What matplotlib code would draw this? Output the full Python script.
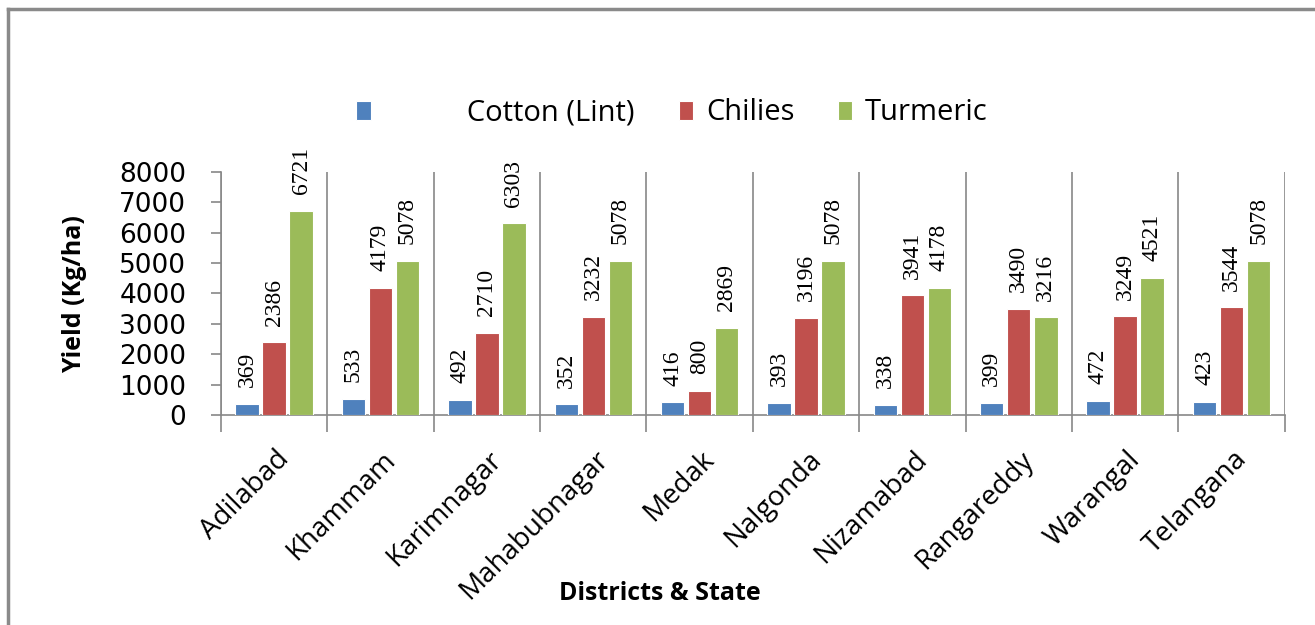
import numpy as np
import matplotlib
matplotlib.use("Agg")
import matplotlib.pyplot as plt
import matplotlib.transforms as mtransforms
from matplotlib.lines import Line2D

# ---------- yields by district (Kg/ha) ----------
districts = ["Adilabad", "Khammam", "Karimnagar", "Mahabubnagar", "Medak",
             "Nalgonda", "Nizamabad", "Rangareddy", "Warangal", "Telangana"]
cotton = [369, 533, 492, 352, 416, 393, 338, 399, 472, 423]
chilies = [2386, 4179, 2710, 3232, 800, 3196, 3941, 3490, 3249, 3544]
turmeric = [6721, 5078, 6303, 5078, 2869, 5078, 4178, 3216, 4521, 5078]

series = [
    (" " * 11 + "Cotton (Lint)", cotton, "#4F81BD"),
    ("Chilies", chilies, "#C0504D"),
    ("Turmeric", turmeric, "#9BBB59"),
]

SANS = "Open Sans"

fig = plt.figure(figsize=(13.15, 6.25), dpi=100)
ax = fig.add_axes([0.168, 0.336, 0.809, 0.389])

x = np.arange(len(districts))
step, width = 0.254, 0.22
for i, (name, vals, col) in enumerate(series):
    pos = x + (i - 1) * step
    bars = ax.bar(pos, vals, width, color=col, edgecolor="white", linewidth=0.8, label=name, zorder=3)
    for b, v in zip(bars, vals):
        ax.annotate(str(v), (b.get_x() + b.get_width() / 2, v), xytext=(0, 12),
                    textcoords="offset points", rotation=90, ha="center", va="bottom",
                    fontsize=17, family="Liberation Serif")

ax.set_xlim(-0.5, len(districts) - 0.5)
ax.set_ylim(0, 8000)
ax.set_yticks(range(0, 8001, 1000))
ax.tick_params(axis="y", labelsize=19, length=7, color="#888888", width=1.2, pad=18)

# category separators
ax.set_xticks(x)
ax.set_xticks(np.arange(-0.5, len(districts)), minor=True)
ax.tick_params(axis="x", which="major", length=0, pad=22)
ax.tick_params(axis="x", which="minor", length=12, color="#888888", width=1.2)
ax.grid(True, axis="x", which="minor", color="#888888", linewidth=1.2, zorder=1)
ax.set_xticklabels(districts, rotation=45, ha="right", rotation_mode="anchor",
                   fontsize=20, family=SANS)
shift = mtransforms.ScaledTranslation(1 / 100, 0, fig.dpi_scale_trans)
for lbl in ax.get_xticklabels():
    lbl.set_transform(lbl.get_transform() + shift)

for s in ("top", "right"):
    ax.spines[s].set_visible(False)
for s in ("left", "bottom"):
    ax.spines[s].set_color("#888888")
    ax.spines[s].set_linewidth(1.2)

fig.text(75 / 1315, 1 - 294 / 625, "Yield (Kg/ha)", rotation=90, ha="center", va="center",
         fontsize=18, fontweight="bold", family=SANS)
fig.text(660 / 1315, 1 - 593 / 625, "Districts & State", ha="center", va="center",
         fontsize=18, fontweight="bold", family=SANS)

fig.legend(loc="center", bbox_to_anchor=(672 / 1315, 1 - 113 / 625), ncol=3, frameon=False,
           prop={"family": SANS, "size": 21}, handlelength=0.5, handleheight=0.65,
           handletextpad=0.43, columnspacing=1.5)

# outer frame (top and left edges)
fig.add_artist(Line2D([8 / 1315, 1], [1 - 9 / 625, 1 - 9 / 625], color="#8a8a8a", linewidth=2.5))
fig.add_artist(Line2D([8 / 1315, 8 / 1315], [0, 1 - 9 / 625], color="#8a8a8a", linewidth=2.5))

fig.savefig("out.png", dpi=100)
